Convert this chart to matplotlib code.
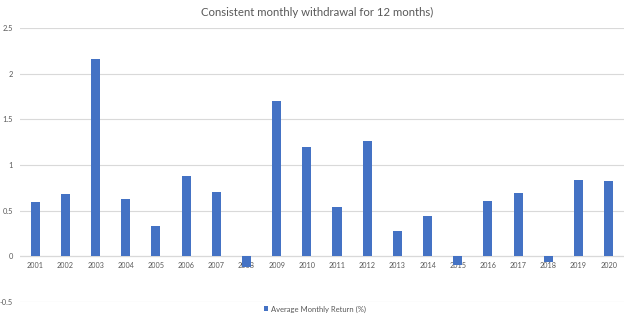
import matplotlib
matplotlib.use("Agg")
import matplotlib.pyplot as plt
import matplotlib.transforms as mtransforms

plt.rcParams['font.family'] = ['Lato', 'DejaVu Sans']

years = ["2001", "2002", "2003", "2004", "2005", "2006", "2007", "2008", "2009", "2010",
         "2011", "2012", "2013", "2014", "2015", "2016", "2017", "2018", "2019", "2020"]
avg_monthly_return = [0.60, 0.68, 2.16, 0.63, 0.33, 0.88, 0.71, -0.12, 1.70, 1.20,
                      0.54, 1.26, 0.28, 0.44, -0.10, 0.61, 0.69, -0.06, 0.84, 0.83]
y_ticks = [-0.5, 0, 0.5, 1, 1.5, 2, 2.5]
y_tick_labels = ["-0.5", "0", "0.5", "1", "1.5", "2", "2.5"]

bar_color = "#4472C4"
grid_color = "#d9d9d9"
text_color = "#595959"

fig = plt.figure(figsize=(6.3, 3.23), dpi=100)
ax = fig.add_axes([0.032, 0.065, 0.958, 0.848])

x = list(range(len(years)))
ax.bar(x, avg_monthly_return, width=0.3, color=bar_color, zorder=3,
       label="Average Monthly Return (%)")

ax.set_xlim(-0.5, len(years) - 0.5)
ax.set_ylim(-0.5, 2.5)
ax.set_yticks(y_ticks)
ax.set_yticklabels(y_tick_labels)
ax.tick_params(axis='y', length=0, labelsize=5.4, colors=text_color, pad=5)
ax.set_xticks([])
ax.grid(axis='y', color=grid_color, linewidth=0.8, zorder=0)
ax.axhline(0, color="#bfbfbf", linewidth=0.8, zorder=1)
for s in ax.spines.values():
    s.set_visible(False)

# category labels sit just under the zero line, beneath the bars
offset = mtransforms.offset_copy(ax.transData, fig=fig, x=0, y=-4, units='points')
for xi, lab in zip(x, years):
    ax.text(xi, 0, lab, transform=offset, ha='center', va='top',
            fontsize=5.2, color=text_color, zorder=2)

fig.text(0.503, 0.962, "Consistent monthly withdrawal for 12 months)",
         ha='center', va='center', fontsize=8.2, color=text_color)

fig.legend(loc='center', bbox_to_anchor=(0.5, 0.043), frameon=False,
           fontsize=5.5, labelcolor=text_color, handlelength=0.6, handleheight=0.6,
           handletextpad=0.4)

fig.savefig("out.png", dpi=100)
